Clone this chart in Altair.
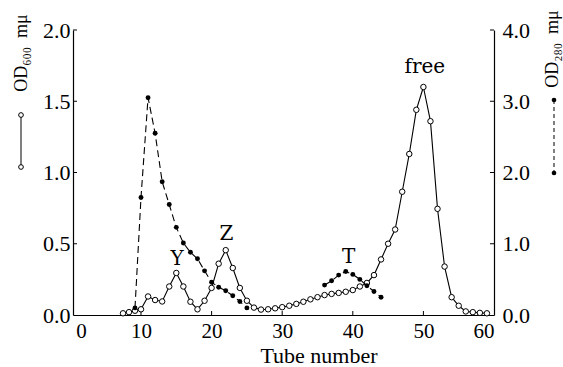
import altair as alt
import pandas as pd

# ---------------- data ----------------
tubes_600 = list(range(7, 60))
od600 = [0.012, 0.02, 0.03, 0.04, 0.13, 0.105, 0.095, 0.20, 0.295,
         0.20, 0.093, 0.04, 0.10, 0.19, 0.36, 0.455, 0.33, 0.19, 0.10,
         0.052, 0.038, 0.04, 0.047, 0.055, 0.065, 0.078, 0.093, 0.11, 0.125,
         0.14, 0.148, 0.155, 0.163, 0.175, 0.20, 0.225, 0.28, 0.39, 0.50,
         0.60, 0.865, 1.13, 1.44, 1.60, 1.36, 0.745, 0.34, 0.125, 0.065,
         0.025, 0.02, 0.015, 0.012]

tubes_280_a = list(range(9, 26))
od280_a = [0.10, 1.65, 3.05, 2.55, 1.87, 1.55, 1.23, 1.01, 0.88, 0.79,
           0.62, 0.46, 0.39, 0.34, 0.27, 0.19, 0.10]
tubes_280_b = list(range(36, 45))
od280_b = [0.42, 0.48, 0.56, 0.61, 0.57, 0.50, 0.41, 0.33, 0.25]

peak_labels = ["Y", "Z", "T", "free"]
peak_tubes = [15.1, 22.1, 39.4, 50.2]
peak_od = [0.39, 0.566, 0.41, 1.74]

x_ticks = [0, 10, 20, 30, 40, 50, 60]
left_ticks = [0.0, 0.5, 1.0, 1.5, 2.0]
right_ticks = [0.0, 1.0, 2.0, 3.0, 4.0]

# ---------------- tables ----------------
df600 = pd.DataFrame({"tube": tubes_600, "od": od600})
df280 = pd.DataFrame({
    "tube": tubes_280_a + tubes_280_b,
    "od280": od280_a + od280_b,
    "seg": ["a"] * len(tubes_280_a) + ["b"] * len(tubes_280_b),
})
dflab = pd.DataFrame({"tube": peak_tubes, "od": peak_od, "label": peak_labels})
dfxt = pd.DataFrame({"tube": x_ticks[1:-1]})
dflt = pd.DataFrame({"od": left_ticks[1:]})
dfrt = pd.DataFrame({"od280": right_ticks[1:]})
one = pd.DataFrame({"a": [0]})

SERIF = "Liberation Serif"
W, H = 421, 285

xscale = alt.Scale(domain=[-1.15, 0, 10, 60], range=[0, 8, 68, W], nice=False, zero=False)
X = alt.X("tube:Q", scale=xscale,
          axis=alt.Axis(values=x_ticks, format="d", title=None, labelPadding=5,
                        labelFontSize=21))
yl_scale = alt.Scale(domain=[0, 2], nice=False, zero=True)
YL = alt.Y("od:Q", scale=yl_scale,
           axis=alt.Axis(orient="left", values=left_ticks, format=".1f", title=None,
                         labelPadding=3))
yr_scale = alt.Scale(domain=[0, 4], nice=False, zero=True)
YR = alt.Y("od280:Q", scale=yr_scale,
           axis=alt.Axis(orient="right", values=right_ticks, format=".1f", title=None,
                         labelPadding=8))

# ---------------- OD600 (left axis) ----------------
line600 = alt.Chart(df600).mark_line(color="black", strokeWidth=1.1).encode(x=X, y=YL)
pts600 = alt.Chart(df600).mark_point(shape="circle", filled=True, fill="white",
                                     stroke="black", strokeWidth=1, size=30,
                                     opacity=1).encode(x=X, y=YL)
labels = alt.Chart(dflab).mark_text(font="DejaVu Serif", fontSize=20, color="black",
                                    baseline="middle", align="center").encode(
    x=X, y=YL, text="label:N")
lticks = alt.Chart(dflt).mark_rule(color="black", strokeWidth=1).encode(
    y=YL, x=alt.value(0), x2=alt.value(4))
bticks = alt.Chart(dfxt).mark_rule(color="black", strokeWidth=1).encode(
    x=X, y=alt.value(H), y2=alt.value(H - 4))

title_left = alt.Chart(one).mark_text(text="OD\u2086\u2080\u2080\u2002m\u03bc", font=SERIF,
                                      fontSize=18, angle=270, color="black",
                                      align="center", baseline="middle").encode(
    x=alt.value(-51), y=alt.value(23))
sym_l_line = alt.Chart(one).mark_rule(color="black", strokeWidth=1).encode(
    x=alt.value(-52), y=alt.value(85), y2=alt.value(137))
sym_l_p1 = alt.Chart(one).mark_point(shape="circle", filled=True, fill="white",
                                     stroke="black", strokeWidth=1, size=22,
                                     opacity=1).encode(x=alt.value(-52), y=alt.value(85))
sym_l_p2 = alt.Chart(one).mark_point(shape="circle", filled=True, fill="white",
                                     stroke="black", strokeWidth=1, size=22,
                                     opacity=1).encode(x=alt.value(-52), y=alt.value(137))
title_bottom = alt.Chart(one).mark_text(text="Tube number", font=SERIF, fontSize=22,
                                        color="black", align="center",
                                        baseline="middle").encode(
    x=alt.value(246), y=alt.value(326))

layer_left = alt.layer(line600, lticks, bticks, pts600, labels, title_left,
                       sym_l_line, sym_l_p1, sym_l_p2, title_bottom)

# ---------------- OD280 (right axis) ----------------
line280 = alt.Chart(df280).mark_line(color="black", strokeWidth=1.1,
                                     strokeDash=[7, 4]).encode(x=X, y=YR, detail="seg:N")
pts280 = alt.Chart(df280).mark_circle(color="black", size=24, opacity=1).encode(x=X, y=YR)
rticks = alt.Chart(dfrt).mark_rule(color="black", strokeWidth=1).encode(
    y=YR, x=alt.value(W - 4), x2=alt.value(W))
title_right = alt.Chart(one).mark_text(text="OD\u2082\u2088\u2080\u2002m\u03bc", font=SERIF,
                                       fontSize=18, angle=270, color="black",
                                       align="center", baseline="middle").encode(
    x=alt.value(480), y=alt.value(19))
sym_r_line = alt.Chart(one).mark_rule(color="black", strokeWidth=1,
                                      strokeDash=[4, 3]).encode(
    x=alt.value(481), y=alt.value(70), y2=alt.value(143))
sym_r_p1 = alt.Chart(one).mark_circle(color="black", size=22, opacity=1).encode(
    x=alt.value(481), y=alt.value(70))
sym_r_p2 = alt.Chart(one).mark_circle(color="black", size=22, opacity=1).encode(
    x=alt.value(481), y=alt.value(143))

layer_right = alt.layer(line280, rticks, pts280, title_right, sym_r_line, sym_r_p1, sym_r_p2)

chart = alt.layer(layer_left, layer_right).resolve_scale(y="independent").properties(
    width=W, height=H,
    autosize=alt.AutoSizeParams(type="none"),
    padding={"left": 73, "top": 30, "right": 69, "bottom": 52},
    background="white",
).configure_axis(
    labelFont=SERIF, labelFontSize=22, labelColor="black",
    domainColor="black", domainWidth=1.2, tickSize=0, grid=False,
).configure_view(stroke=None)

chart.save("out.html", embed_options={"renderer": "svg", "actions": False})
